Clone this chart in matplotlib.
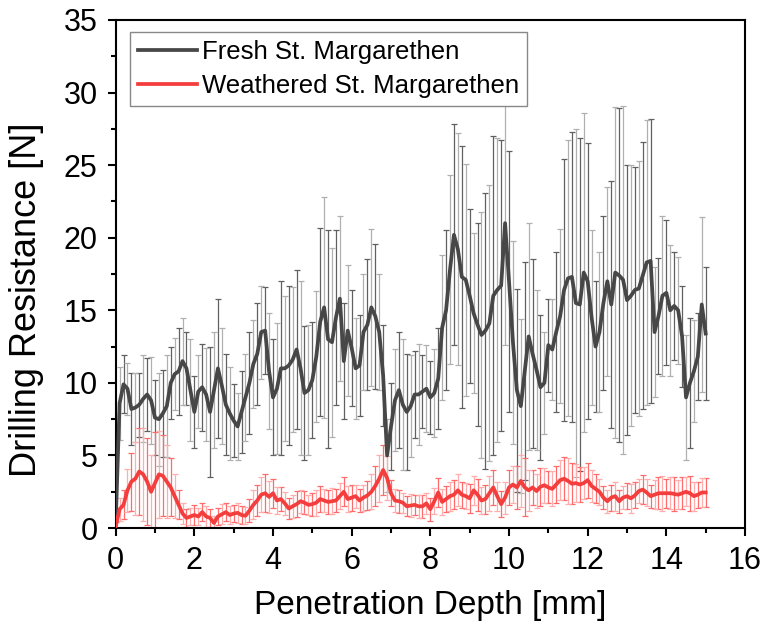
import matplotlib.pyplot as plt
import numpy as np

# Penetration depth (mm), 0.1 mm steps
depth = np.round(np.arange(0, 151) * 0.1, 1)

# Fresh St. Margarethen: mean drilling resistance and standard deviation (N)
fresh_mean = [
    0.3, 8.6, 9.9, 9.6, 8.2, 8.3, 8.5, 8.9, 9.2, 8.8,
    7.6, 7.5, 7.9, 8.4, 10.0, 10.6, 10.8, 11.5, 11.0, 9.5,
    8.0, 9.4, 9.7, 9.2, 8.0, 9.5, 11.0, 9.8, 8.5, 7.9,
    7.4, 7.0, 8.0, 9.0, 10.0, 11.3, 12.0, 13.5, 13.6, 10.8,
    9.0, 9.6, 11.0, 11.0, 11.2, 11.6, 12.3, 11.0, 9.3, 9.5,
    10.2, 11.8, 14.2, 15.2, 13.0, 12.8, 14.5, 15.8, 11.5, 13.6,
    12.4, 11.0, 11.2, 13.5, 14.0, 15.2, 14.6, 13.5, 10.5, 5.0,
    7.0, 8.8, 9.5, 8.5, 8.0, 8.4, 9.2, 9.2, 9.4, 9.6,
    9.0, 9.3, 10.3, 13.8, 15.0, 17.8, 20.2, 19.2, 17.3, 17.1,
    16.0, 14.8, 14.0, 13.3, 13.6, 14.1, 16.0, 16.4, 16.7, 21.0,
    17.0, 12.8, 9.5, 8.4, 10.8, 13.2, 12.0, 10.9, 9.7, 10.0,
    12.6, 12.3, 13.5, 14.6, 16.4, 17.2, 17.3, 15.5, 15.4, 17.6,
    17.0, 14.5, 12.5, 13.5, 15.5, 17.0, 15.4, 17.6, 17.4, 17.1,
    15.7, 16.0, 16.4, 16.5, 17.4, 18.3, 18.4, 13.5, 14.6, 16.0,
    16.2, 15.0, 15.3, 15.0, 13.2, 9.0, 10.0, 10.8, 11.8, 15.4,
    13.4,
]
fresh_err = [
    0.5, 2.5, 2.0, 1.8, 2.5, 2.4, 2.2, 3.0, 2.5, 3.0,
    2.6, 3.2, 3.0, 3.5, 2.5, 2.5, 3.0, 3.0, 2.5, 3.5,
    2.5, 2.5, 3.0, 3.2, 4.5, 4.0, 4.8, 4.0, 3.5, 3.2,
    2.5, 2.3, 2.8, 3.0, 3.5, 3.0, 3.5, 3.2, 3.0, 4.0,
    4.0, 4.5, 6.0, 5.0, 5.5, 5.0, 5.5, 6.0, 4.6, 4.5,
    4.0, 4.5, 6.5, 7.6, 7.5, 6.5, 6.0, 5.7, 4.0, 4.5,
    4.0, 3.5, 3.5, 4.0, 4.5, 5.4, 5.0, 4.0, 3.5, 2.5,
    3.0, 3.5, 4.0, 4.5, 4.0, 3.5, 3.0, 3.5, 2.5, 3.0,
    2.5, 3.0, 3.5, 5.0, 5.5, 6.5, 7.6, 8.0, 9.0, 8.0,
    6.0, 5.5, 7.0, 8.5, 9.5, 9.5, 11.0, 10.5, 10.0, 8.4,
    9.0, 7.0, 7.0, 6.0, 7.5, 7.8, 6.5, 5.5, 5.0, 3.5,
    3.2, 3.5, 5.5, 6.0, 9.0, 9.5, 10.0, 12.0, 11.5, 11.0,
    9.5, 6.0, 4.5, 5.5, 6.0, 6.5, 8.5, 11.4, 11.5, 12.0,
    9.3, 9.0, 8.5, 8.8, 9.2, 9.8, 9.8, 4.5, 4.0, 5.5,
    5.0, 4.5, 3.7, 3.7, 3.5, 4.3, 4.5, 3.5, 3.0, 6.0,
    4.6,
]

# Weathered St. Margarethen: mean drilling resistance and standard deviation (N)
weathered_mean = [
    0.1, 1.3, 1.6, 2.6, 3.2, 3.4, 3.9, 3.7, 3.2, 2.5,
    3.1, 3.7, 3.6, 3.2, 2.8, 2.2, 1.6, 1.0, 0.7, 0.8,
    0.9, 0.8, 1.1, 0.8, 0.7, 0.35, 0.8, 0.95, 1.1, 0.9,
    1.0, 1.05, 0.9, 0.85, 1.2, 1.6, 1.9, 2.3, 2.4, 2.15,
    2.4, 1.9, 2.0, 1.7, 1.35, 1.5, 1.65, 1.85, 1.75, 1.6,
    1.65, 1.75, 2.0, 1.9, 1.8, 1.85, 1.9, 2.2, 2.5, 2.0,
    2.1, 2.2, 1.9, 2.1, 2.25, 2.5, 2.9, 3.4, 4.0, 3.45,
    2.4, 1.9, 1.85, 1.75, 1.5, 1.55, 1.6, 1.5, 1.5, 1.7,
    1.3, 1.85, 2.45, 1.8, 2.0, 2.2, 2.3, 2.6, 2.3, 2.2,
    2.05, 2.6, 2.3, 1.9, 2.0, 2.4, 2.8, 2.2, 1.65, 2.1,
    2.8, 3.0, 2.8, 3.25, 2.8, 2.6, 2.8, 2.55, 2.85, 2.95,
    2.8, 2.7, 3.0, 3.3, 3.4, 3.25, 3.05, 3.1, 3.0, 3.1,
    3.3, 2.9, 2.7, 2.5, 2.1, 1.85, 2.1, 2.2, 1.85, 2.1,
    2.2, 2.05, 2.25, 2.55, 2.65, 2.45, 2.2, 2.3, 2.4, 2.4,
    2.4, 2.4, 2.35, 2.3, 2.4, 2.5, 2.4, 2.2, 2.3, 2.45,
    2.45,
]
weathered_err = [
    0.3, 0.8, 1.0, 1.5, 2.0, 2.5, 3.0, 3.2, 3.0, 2.5,
    3.5, 3.0, 2.8, 2.5, 2.0, 1.5, 1.0, 0.7, 0.6, 0.6,
    0.7, 0.6, 0.6, 0.7, 0.6, 0.5, 0.6, 0.7, 0.6, 0.6,
    0.6, 0.7, 0.6, 0.6, 0.8, 1.0, 1.1, 1.2, 1.3, 1.1,
    1.0, 0.9, 0.8, 0.8, 0.7, 0.8, 0.9, 0.8, 0.8, 0.7,
    0.8, 0.9, 0.9, 0.8, 0.8, 0.9, 0.8, 0.9, 1.0, 0.9,
    0.9, 0.8, 0.8, 0.9, 1.0, 1.2, 1.4, 1.6, 1.7, 1.5,
    0.9, 0.8, 0.8, 0.7, 0.7, 0.8, 0.7, 0.8, 0.8, 0.7,
    0.8, 0.9, 1.0, 0.9, 0.9, 1.0, 1.0, 1.1, 0.9, 0.9,
    1.0, 1.0, 1.1, 0.9, 1.0, 1.2, 1.2, 1.0, 0.9, 1.1,
    1.2, 1.3, 1.5, 1.8, 2.0, 1.4, 1.2, 1.2, 1.3, 1.2,
    1.1, 1.2, 1.3, 1.4, 1.5, 1.6, 1.4, 1.3, 1.2, 1.1,
    1.2, 1.1, 1.0, 0.9, 0.8, 0.8, 0.9, 1.0, 0.8, 0.8,
    0.9, 1.0, 0.9, 0.8, 1.0, 0.9, 0.8, 1.0, 1.1, 1.2,
    1.0, 1.1, 1.2, 1.0, 1.1, 1.0, 1.2, 1.0, 0.9, 1.0,
    1.0,
]

plt.rcParams['font.family'] = ['Liberation Sans', 'DejaVu Sans']

fig = plt.figure(figsize=(7.61, 6.22), dpi=100)
ax = fig.add_axes([0.152, 0.151, 0.827, 0.817])

fm = np.array(fresh_mean)
fe = np.array(fresh_err)
wm = np.array(weathered_mean)
we = np.array(weathered_err)

# error bars first (two shades, like the anti-aliased original), lines on top
eb = dict(fmt='none', elinewidth=0.9, capsize=2.5, capthick=0.9)
ax.errorbar(depth[::2], fm[::2], yerr=fe[::2], ecolor='#606060', zorder=1, **eb)
ax.errorbar(depth[1::2], fm[1::2], yerr=fe[1::2], ecolor='#b0b0b0', zorder=1, **eb)
ax.errorbar(depth[::2], wm[::2], yerr=we[::2], ecolor='#ff6b6b', zorder=2, **eb)
ax.errorbar(depth[1::2], wm[1::2], yerr=we[1::2], ecolor='#ffadad', zorder=2, **eb)
ax.plot(depth, fm, color='#474747', lw=2.7, label='Fresh St. Margarethen', zorder=3)
ax.plot(depth, wm, color='#f43d3d', lw=2.7, label='Weathered St. Margarethen', zorder=4)

ax.set_xlim(0, 16)
ax.set_ylim(0, 35)
ax.set_xticks(np.arange(0, 17, 2))
ax.set_xticks(np.arange(1, 16, 2), minor=True)
ax.set_yticks(np.arange(0, 36, 5))
ax.set_yticks(np.arange(2.5, 35, 5), minor=True)

for s in ax.spines.values():
    s.set_linewidth(1.5)
ax.tick_params(which='major', direction='out', length=6, width=1.5, labelsize=22, pad=7)
ax.tick_params(which='minor', direction='out', length=3.5, width=1.5)

ax.set_xlabel('Penetration Depth [mm]', fontsize=24, labelpad=10)
ax.set_ylabel('Drilling Resistance [N]', fontsize=26)
ax.yaxis.set_label_coords(-0.114, 0.45)

leg = ax.legend(loc='upper left', bbox_to_anchor=(0.022, 0.976), borderaxespad=0,
                fontsize=18.5, fancybox=False, framealpha=1, edgecolor='#888888',
                handlelength=2.3, handletextpad=0.2, labelspacing=0.38, borderpad=0.32)
leg.get_frame().set_linewidth(1.0)

fig.savefig('out.png', dpi=100)
